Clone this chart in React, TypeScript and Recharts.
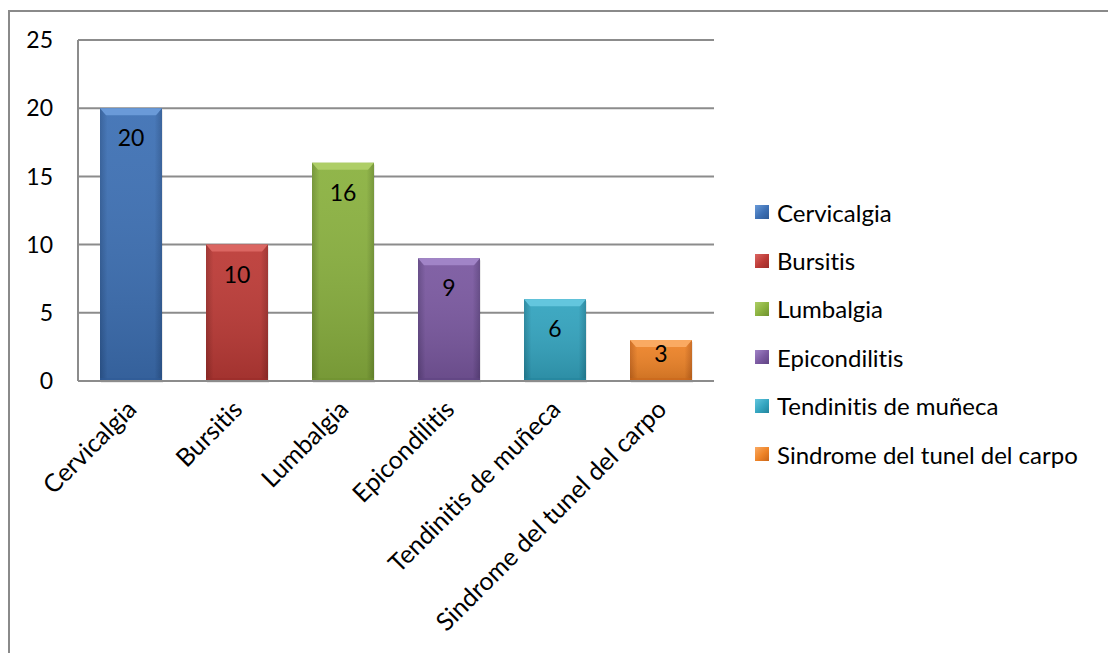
import { BarChart, Bar, XAxis, YAxis, CartesianGrid, Cell, LabelList } from "recharts";

const categories = [
  "Cervicalgia",
  "Bursitis",
  "Lumbalgia",
  "Epicondilitis",
  "Tendinitis de muñeca",
  "Sindrome del tunel del carpo",
];
const casos = [20, 10, 16, 9, 6, 3];
const yTicks = [0, 5, 10, 15, 20, 25];

// base / edge / bevel tones for each bar
const baseColors = ["#3D70B4", "#BC3A36", "#8AB13F", "#7A58A0", "#33A4BF", "#EE8327"];
const edgeColors = ["#2E5A96", "#9A2C29", "#6F9130", "#5F4482", "#23849C", "#C9661A"];
const bevelColors = ["#6A9AD8", "#DB6662", "#AECE66", "#A184C7", "#63C6DE", "#FAAA62"];

const data = categories.map((name, i) => ({ name, casos: casos[i] }));

const FONT = "Lato, 'Open Sans', sans-serif";
const noLig = { fontVariantLigatures: "none" as const };

function BevelBar(props: any) {
  const { x, y, width, height, index } = props;
  if (!height || height <= 0) return null;
  const b = 6;
  const side = `barSide${index}`;
  const shade = `barShade${index}`;
  return (
    <g>
      <defs>
        <linearGradient id={side} x1="0" y1="0" x2="1" y2="0">
          <stop offset="0%" stopColor={edgeColors[index]} />
          <stop offset="12%" stopColor={baseColors[index]} />
          <stop offset="88%" stopColor={baseColors[index]} />
          <stop offset="100%" stopColor={edgeColors[index]} />
        </linearGradient>
        <linearGradient id={shade} x1="0" y1="0" x2="0" y2="1">
          <stop offset="0%" stopColor="#ffffff" stopOpacity={0.06} />
          <stop offset="100%" stopColor="#000000" stopOpacity={0.14} />
        </linearGradient>
      </defs>
      <rect x={x + 1} y={y + 2} width={width} height={height} fill="#000" opacity={0.08} />
      <rect x={x} y={y} width={width} height={height} fill={`url(#${side})`} />
      <rect x={x} y={y} width={width} height={height} fill={`url(#${shade})`} />
      <polygon
        points={`${x},${y} ${x + width},${y} ${x + width - b},${y + b + 1} ${x + b},${y + b + 1}`}
        fill={bevelColors[index]}
      />
      <rect x={x} y={y + height - 3} width={width} height={3} fill={edgeColors[index]} opacity={0.6} />
    </g>
  );
}

function ValueLabel(props: any) {
  const { x, y, width, height, value } = props;
  const dy = height > 50 ? 29 : 13;
  return (
    <text
      x={x + width / 2}
      y={y + dy}
      textAnchor="middle"
      dominantBaseline="central"
      fontSize={23}
      fontFamily={FONT}
      fill="#000"
    >
      {value}
    </text>
  );
}

function AngledTick(props: any) {
  const { x, y, payload } = props;
  return (
    <g transform={`translate(${x + 7},${y + 22})`}>
      <text
        textAnchor="end"
        transform="rotate(-45)"
        fontSize={25}
        fontFamily={FONT}
        fill="#000"
        style={noLig}
      >
        {payload.value}
      </text>
    </g>
  );
}

function SideLegend() {
  return (
    <div style={{ position: "absolute", left: 745, top: 176, fontFamily: FONT, ...noLig }}>
      {categories.map((name, i) => (
        <div key={name} style={{ display: "flex", alignItems: "center", height: 48.4 }}>
          <span
            style={{
              width: 14,
              height: 14,
              marginRight: 8,
              background: `linear-gradient(135deg, ${bevelColors[i]}, ${baseColors[i]} 55%, ${edgeColors[i]})`,
            }}
          />
          <span style={{ fontSize: 24, color: "#000" }}>{name}</span>
        </div>
      ))}
    </div>
  );
}

export default function App() {
  return (
    <div
      style={{
        position: "relative",
        marginTop: 2,
        width: 1106,
        height: 660,
        borderTop: "2px solid #8A8A8A",
        borderLeft: "2px solid #8A8A8A",
        borderRight: "1px solid #E2E2E2",
        boxSizing: "border-box",
        background: "#fff",
      }}
    >
      <BarChart
        width={1103}
        height={650}
        data={data}
        margin={{ top: 28, right: 399, bottom: 11, left: 0 }}
        barSize={62}
      >
        <CartesianGrid vertical={false} stroke="#8C8C8C" strokeWidth={2} />
        <XAxis
          dataKey="name"
          interval={0}
          height={270}
          tickLine={false}
          axisLine={{ stroke: "#8C8C8C", strokeWidth: 2 }}
          tick={<AngledTick />}
        />
        <YAxis
          width={68}
          domain={[0, 25]}
          ticks={yTicks}
          tickLine={false}
          axisLine={{ stroke: "#8C8C8C", strokeWidth: 2 }}
          tickMargin={19}
          tick={{ fontSize: 23, fontFamily: FONT, fill: "#000" }}
        />
        <Bar dataKey="casos" shape={<BevelBar />} isAnimationActive={false}>
          {data.map((d, i) => (
            <Cell key={d.name} fill={baseColors[i]} />
          ))}
          <LabelList dataKey="casos" content={<ValueLabel />} />
        </Bar>
      </BarChart>
      <SideLegend />
    </div>
  );
}
